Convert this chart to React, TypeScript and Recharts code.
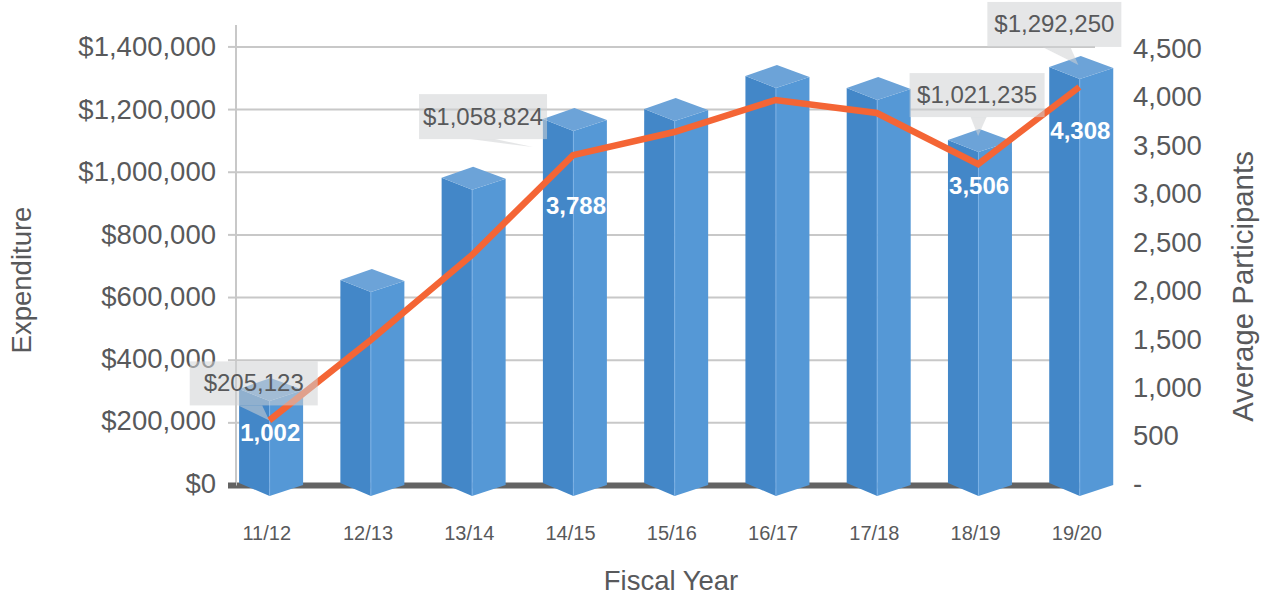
import { Bar, CartesianGrid, ComposedChart, LabelList, Line, XAxis, YAxis } from "recharts"

const fiscalYears = ["11/12", "12/13", "13/14", "14/15", "15/16", "16/17", "17/18", "18/19", "19/20"]
const expenditure = [308000, 656000, 982000, 1170000, 1202000, 1307000, 1269000, 1103000, 1336000]
const participants = [671, 1497, 2374, 3406, 3644, 3974, 3840, 3313, 4108]
// printed figures, they do not sit exactly on the marks in the source picture
const expenditureLabels = [205123, null, null, 1058824, null, null, null, 1021235, 1292250]
const participantLabels = [1002, null, null, 3788, null, null, null, 3506, 4308]
const expenditureTicks = [0, 200000, 400000, 600000, 800000, 1000000, 1200000, 1400000]
const participantTicks = [0, 500, 1000, 1500, 2000, 2500, 3000, 3500, 4000, 4500]

const data = fiscalYears.map((name, i) => ({
  name,
  expenditure: expenditure[i],
  participants: participants[i],
  expenditureLabel: expenditureLabels[i],
  participantLabel: participantLabels[i],
}))

const FONT = "'Liberation Sans', Arial, sans-serif"
const TEXT = "#58595B"
const GRID = "#C8C8C8"
const BASELINE = "#636363"
const PLOT_LEFT = 236
const PLOT_RIGHT = 1095

// callout geometry relative to the line point of that category
const callouts: Record<number, any> = {
  0: { left: -79.5, top: -59, w: 128, h: 44, tip: [0, 0], base: [-31, -7] },
  3: { left: -154, top: -61, w: 128, h: 45, tip: [-40, -8], base: [-103, -78] },
  7: { left: -68.5, top: -91, w: 135, h: 44, tip: [0, -28], base: [-7.5, 8.5] },
  8: { left: -92, top: -85, w: 134, h: 45, tip: [-1, -22], base: [-37, -9] },
}
const valueLabelOffset: Record<number, number[]> = { 0: [1, 12], 3: [3, 50], 7: [1, 21], 8: [1, 43] }

function Bar3D({ x, y, width, height }: any) {
  const seam = x + width / 2
  const left = seam - 30.5
  const right = seam + 33.5
  const bottom = y + height
  return (
    <g>
      <polygon
        points={`${left},${y} ${seam},${y + 12} ${seam},${bottom + 10.5} ${left},${bottom - 2.5}`}
        fill="#4387C8"
      />
      <polygon
        points={`${seam},${y + 12} ${right},${y + 1} ${right},${bottom - 0.5} ${seam},${bottom + 10.5}`}
        fill="#5598D6"
      />
      <polygon
        points={`${left},${y} ${seam + 1},${y - 11} ${right},${y + 1} ${seam},${y + 12}`}
        fill="#6CA3D8"
      />
      <line x1={seam} y1={y + 12} x2={seam} y2={bottom + 10.5} stroke="#7DB2E6" strokeWidth={1} />
    </g>
  )
}

// the zero line is the heavy baseline, it has to stay behind the bars
function GridLine({ x1, x2, y1, y2, index }: any) {
  const isZero = index === 0
  return (
    <line
      x1={x1}
      x2={x2}
      y1={y1}
      y2={y2}
      stroke={isZero ? BASELINE : GRID}
      strokeWidth={isZero ? 6 : 2}
    />
  )
}

function ExpenditureTick({ x, y, payload }: any) {
  const nudge = Math.max(0, 2 - payload.value / 400000)
  return (
    <g>
      {payload.value === 0 ? (
        <rect x={228} y={y - 3} width={PLOT_LEFT - 228} height={6} fill={BASELINE} />
      ) : (
        <line x1={228} x2={PLOT_LEFT} y1={y} y2={y} stroke={GRID} strokeWidth={2} />
      )}
      <text x={216} y={y + 9 - nudge} textAnchor="end" fontSize={27.5} fontFamily={FONT} fill={TEXT}>
        {"$" + payload.value.toLocaleString("en-US")}
      </text>
    </g>
  )
}

function ParticipantTick({ y, payload }: any) {
  const nudge = Math.max(0, 1.5 - payload.value / 500)
  return (
    <text x={1133} y={y + 9 - nudge} textAnchor="start" fontSize={27.5} fontFamily={FONT} fill={TEXT}>
      {payload.value === 0 ? "-" : payload.value.toLocaleString("en-US")}
    </text>
  )
}

function YearTick({ x, payload }: any) {
  return (
    <text x={x - 2.5} y={540} textAnchor="middle" fontSize={20} fontFamily={FONT} fill={TEXT}>
      {payload.value}
    </text>
  )
}

function Callout({ x, y, index, value }: any) {
  const c = callouts[index]
  if (!c || value == null) return null
  const bx = x + c.left
  const by = y + c.top
  const baseY = by + c.h
  const pointer = `${x + c.base[0]},${baseY} ${x + c.base[1]},${baseY} ${x + c.tip[0]},${y + c.tip[1]}`
  const label = participantLabels[index]
  const [dx, dy] = valueLabelOffset[index]
  return (
    <g>
      <polygon points={pointer} fill="#D0D1D4" fillOpacity={0.55} />
      <rect x={bx} y={by} width={c.w} height={c.h} fill="#D0D1D4" fillOpacity={0.55} />
      <text
        x={bx + c.w / 2}
        y={by + c.h / 2 + 8}
        textAnchor="middle"
        fontSize={24}
        fontFamily={FONT}
        fill={TEXT}
      >
        {"$" + value.toLocaleString("en-US")}
      </text>
      <text
        x={x + dx}
        y={y + dy + 9}
        textAnchor="middle"
        fontSize={24}
        fontWeight="bold"
        fontFamily={FONT}
        fill="#FFFFFF"
      >
        {label.toLocaleString("en-US")}
      </text>
    </g>
  )
}

export default function App() {
  return (
    <div style={{ position: "absolute", left: 0, top: 0, width: 1265, height: 593 }}>
      <ComposedChart
        width={1265}
        height={593}
        data={data}
        margin={{ top: 25, right: 0, bottom: 0, left: 0 }}
        barSize={64}
      >
        <CartesianGrid
          yAxisId="left"
          vertical={false}
          horizontalValues={expenditureTicks}
          horizontal={GridLine}
        />
        <XAxis
          dataKey="name"
          height={107.5}
          padding={{ left: -17.4, right: -35 }}
          axisLine={false}
          tickLine={false}
          interval={0}
          tick={YearTick}
          label={{
            content: () => (
              <text x={671} y={590} textAnchor="middle" fontSize={27.5} fontFamily={FONT} fill={TEXT}>
                Fiscal Year
              </text>
            ),
          }}
        />
        <YAxis
          yAxisId="left"
          width={PLOT_LEFT}
          domain={[0, 1470000]}
          ticks={expenditureTicks}
          axisLine={{ stroke: GRID, strokeWidth: 2 }}
          tickLine={false}
          tick={ExpenditureTick}
          label={{
            content: () => (
              <text
                transform="translate(31 280) rotate(-90)"
                textAnchor="middle"
                fontSize={27.5}
                fontFamily={FONT}
                fill={TEXT}
              >
                Expenditure
              </text>
            ),
          }}
        />
        <YAxis
          yAxisId="right"
          orientation="right"
          width={1265 - PLOT_RIGHT}
          domain={[0, 4747]}
          ticks={participantTicks}
          axisLine={false}
          tickLine={false}
          tick={ParticipantTick}
          label={{
            content: () => (
              <text
                transform="translate(1253 286.5) rotate(-90)"
                textAnchor="middle"
                fontSize={29.4}
                fontFamily={FONT}
                fill={TEXT}
              >
                Average Participants
              </text>
            ),
          }}
        />
        <Bar yAxisId="left" dataKey="expenditure" shape={Bar3D} isAnimationActive={false} />
        <Line
          yAxisId="right"
          dataKey="participants"
          stroke="#F46535"
          strokeWidth={6.5}
          dot={false}
          type="linear"
          isAnimationActive={false}
        >
          <LabelList dataKey="expenditureLabel" content={Callout} />
        </Line>
      </ComposedChart>
    </div>
  )
}
